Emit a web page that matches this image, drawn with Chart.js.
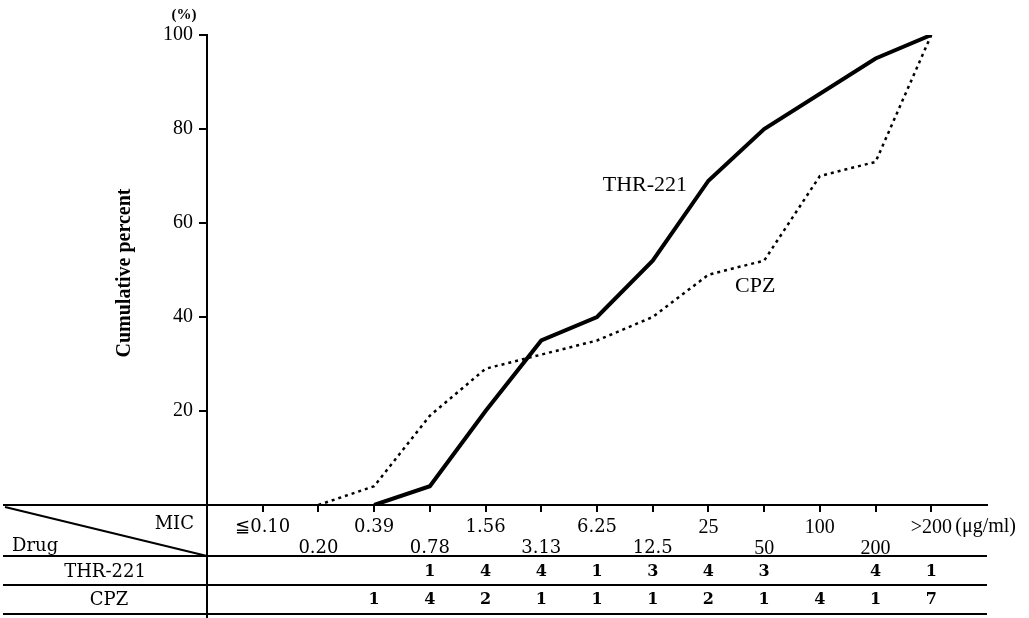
<!DOCTYPE html>
<html>
<head>
<meta charset="utf-8">
<script src="https://cdn.jsdelivr.net/npm/chart.js@4.4.1/dist/chart.umd.min.js"></script>
<style>
  html, body { margin: 0; padding: 0; background: #fff; }
  canvas { display: block; }
</style>
</head>
<body>
<canvas id="c" width="1029" height="618"></canvas>
<script>
// MIC categories (µg/ml)
const categories = ['≦0.10', '0.20', '0.39', '0.78', '1.56', '3.13', '6.25', '12.5', '25', '50', '100', '200', '>200'];
// Cumulative percent
const thrCumulative = [null, null, 0, 4, 20, 35, 40, 52, 69, 80, null, 95, 100];
const cpzCumulative = [null, 0, 4, 19, 29, 32, 35, 40, 49, 52, 70, 73, 100];
// Number of strains per MIC
const thrCounts = [null, null, null, 1, 4, 4, 1, 3, 4, 3, null, 4, 1];
const cpzCounts = [null, null, 1, 4, 2, 1, 1, 1, 2, 1, 4, 1, 7];
// y-axis tick values
const yTicks = [20, 40, 60, 80, 100];

const seriesNames = ['THR-221', 'CPZ'];
const unitLabel = '(μg/ml)';

const tablePlugin = {
  id: 'tablePlugin',
  afterDraw(chart) {
    const ctx = chart.ctx;
    const xs = chart.scales.x, ys = chart.scales.y;
    const area = chart.chartArea;
    const b = area.bottom;
    ctx.save();
    ctx.strokeStyle = '#000';
    ctx.fillStyle = '#000';
    ctx.lineWidth = 2;
    // horizontal table lines
    const rows = [b, b + 51, b + 80, b + 109];
    rows.forEach(y => {
      ctx.beginPath();
      ctx.moveTo(3, y);
      ctx.lineTo(area.right, y);
      ctx.stroke();
    });
    // vertical divider continuing the y axis
    ctx.beginPath();
    ctx.moveTo(area.left, b);
    ctx.lineTo(area.left, 618);
    ctx.stroke();
    // diagonal header line
    ctx.beginPath();
    ctx.moveTo(5, b + 2);
    ctx.lineTo(area.left, b + 51);
    ctx.stroke();

    // header texts
    ctx.textBaseline = 'middle';
    ctx.font = '18px "DejaVu Serif"';
    ctx.textAlign = 'right';
    ctx.fillText('MIC', area.left - 13, b + 19);
    ctx.textAlign = 'left';
    ctx.fillText('Drug', 12, b + 41);
    ctx.textAlign = 'center';
    ctx.fillText(seriesNames[0], 105, b + 67);
    ctx.fillText(seriesNames[1], 109, b + 95);

    // counts
    ctx.font = 'bold 16px "DejaVu Serif"';
    categories.forEach((c, i) => {
      const px = xs.getPixelForValue(i);
      if (thrCounts[i] != null) ctx.fillText(String(thrCounts[i]), px, b + 67);
      if (cpzCounts[i] != null) ctx.fillText(String(cpzCounts[i]), px, b + 95);
    });

    // unit after last category
    ctx.textAlign = 'left';
    ctx.font = '20px "Liberation Serif"';
    ctx.fillText(unitLabel, xs.getPixelForValue(categories.length - 1) + 24, b + 22);

    // (%) above y axis
    ctx.textAlign = 'center';
    ctx.font = 'bold 15px "Liberation Serif"';
    ctx.fillText('(%)', area.left - 23, area.top - 20);

    // y axis title
    ctx.save();
    ctx.translate(125, ys.getPixelForValue(50) + 3);
    ctx.rotate(-Math.PI / 2);
    ctx.font = 'bold 20px "Liberation Serif"';
    ctx.fillText('Cumulative percent', 0, 0);
    ctx.restore();

    // series labels on plot
    ctx.font = '22px "Liberation Serif"';
    ctx.fillText(seriesNames[0], xs.getPixelForValue(6.86), ys.getPixelForValue(68));
    ctx.fillText(seriesNames[1], xs.getPixelForValue(8.84), ys.getPixelForValue(46.6));
    ctx.restore();
  }
};

new Chart(document.getElementById('c'), {
  type: 'line',
  data: {
    datasets: [
      {
        label: seriesNames[0],
        data: thrCumulative.map((v, i) => ({ x: i, y: v })),
        borderColor: '#000',
        borderWidth: 4,
        pointRadius: 0,
        spanGaps: true,
        tension: 0,
        fill: false
      },
      {
        label: seriesNames[1],
        data: cpzCumulative.map((v, i) => ({ x: i, y: v })),
        borderColor: '#000',
        borderWidth: 2.5,
        borderDash: [3, 4],
        pointRadius: 0,
        spanGaps: true,
        tension: 0,
        fill: false
      }
    ]
  },
  options: {
    responsive: false,
    animation: false,
    devicePixelRatio: 1,
    layout: { padding: { left: 0, right: 42, top: 35, bottom: 0 } },
    plugins: { legend: { display: false }, tooltip: { enabled: false } },
    scales: {
      x: {
        type: 'linear',
        min: -1,
        max: categories.length,
        afterBuildTicks: s => { s.ticks = categories.map((c, i) => ({ value: i })); },
        afterFit: s => { s.height = 113; },
        grid: { drawOnChartArea: false, drawTicks: true, tickLength: 7, color: '#000', lineWidth: 2 },
        border: { display: true, color: '#000', width: 2 },
        ticks: {
          autoSkip: false,
          maxRotation: 0,
          padding: 5,
          color: '#000',
          font: ctx => {
            const lab = categories[ctx.index] || '';
            return lab.includes('.')
              ? { family: 'DejaVu Serif', size: 18, lineHeight: 21 / 18 }
              : { family: 'Liberation Serif', size: 20, lineHeight: 21 / 20 };
          },
          callback: (v, i) => (i % 2 === 0 ? [categories[i], ''] : ['', categories[i]])
        }
      },
      y: {
        min: 0,
        max: 100,
        afterBuildTicks: s => { s.ticks = yTicks.map(v => ({ value: v })); },
        afterFit: s => { s.width = 207; },
        grid: { drawOnChartArea: false, drawTicks: true, tickLength: 8, color: '#000', lineWidth: 2 },
        border: { display: true, color: '#000', width: 2 },
        ticks: {
          padding: 6,
          color: '#000',
          font: { family: 'Liberation Serif', size: 20 }
        }
      }
    }
  },
  plugins: [tablePlugin]
});
</script>
</body>
</html>
